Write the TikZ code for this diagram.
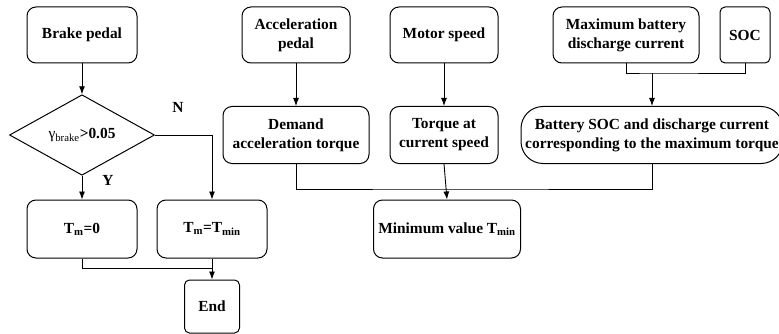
\documentclass[tikz,border=0pt]{standalone}
\usepackage{fontspec}
\setmainfont{Liberation Serif}
\usetikzlibrary{shapes.geometric,arrows.meta}

\begin{document}
\begin{tikzpicture}[x=1pt, y=-1pt,
    every node/.style={font=\fontsize{15.4}{19}\selectfont\bfseries},
    block/.style={rectangle, draw, line width=1pt, rounded corners=9pt, align=center,
        inner sep=2pt, minimum width=110pt, minimum height=56pt},
    smallblock/.style={block, rounded corners=5pt},
    decision/.style={diamond, draw, line width=1pt, inner sep=0pt,
        minimum width=145pt, minimum height=56pt},
    arr/.style={-{Latex[length=8pt,width=6pt]}, line width=0.9pt},
    link/.style={line width=0.9pt}
]
\useasboundingbox (0,0) rectangle (779,334);

% === BRAKE BRANCH ===
\node[block] (brake) at (82,35) {Brake pedal};
\node[decision] (cond) at (82,135) {{\mdseries γ\textsubscript{brake}}>0.05};
\node[block, minimum height=58pt] (tmzero) at (82,229) {T\textsubscript{m}=0};
\node[block, minimum height=58pt] (tmmin) at (212,229) {T\textsubscript{m}=T\textsubscript{min}};
\node[smallblock, minimum width=55pt, minimum height=53pt] (endbox) at (212,306.5) {End};

\node (nlabel) at (178,107) {N};
\node (ylabel) at (108,180) {Y};

% === INPUTS ===
\node[block, minimum width=108pt] (accel) at (296,35) {Acceleration\\pedal};
\node[block, minimum width=108pt] (motor) at (444,35) {Motor speed};
\node[block, minimum width=146pt] (maxbat) at (626,35) {Maximum battery\\discharge current};
\node[smallblock, minimum width=50pt] (soc) at (745,35) {SOC};

% === TORQUE LIMITS ===
\node[block, minimum width=146pt, minimum height=57pt] (demand) at (296,135) {Demand\\acceleration torque};
\node[block, minimum width=108pt, minimum height=57pt] (torque) at (444,135) {Torque at\\current speed};
\node[block, rounded corners=22pt, minimum width=262pt, minimum height=57pt, inner xsep=0pt] (battery) at (652,135)
    {Battery SOC and discharge current\\corresponding to the maximum torque};
\node[block, minimum width=147pt, minimum height=58pt] (minval) at (447,229) {Minimum value T\textsubscript{min}};

\coordinate (jbat) at (652,73);
\coordinate (jmin) at (447,189);
\coordinate (jend) at (212,268);

% connectors
\draw[arr] (brake) -- (cond);
\draw[arr] (cond) -- (tmzero);
\draw[arr] (cond.east) -| (tmmin.north);
\draw[link] (tmzero.south) |- (jend);
\draw[arr] (tmmin) -- (endbox);

\draw[arr] (accel) -- (demand);
\draw[arr] (motor) -- (torque);
\draw[link] (maxbat.south) |- (jbat) -| (soc.south);
\draw[arr] (jbat) -- (battery.north);

\draw[link] (demand.south) |- (jmin) -| (battery.south);
\draw[arr] (torque.south) -- (minval.north);

\end{tikzpicture}
\end{document}
